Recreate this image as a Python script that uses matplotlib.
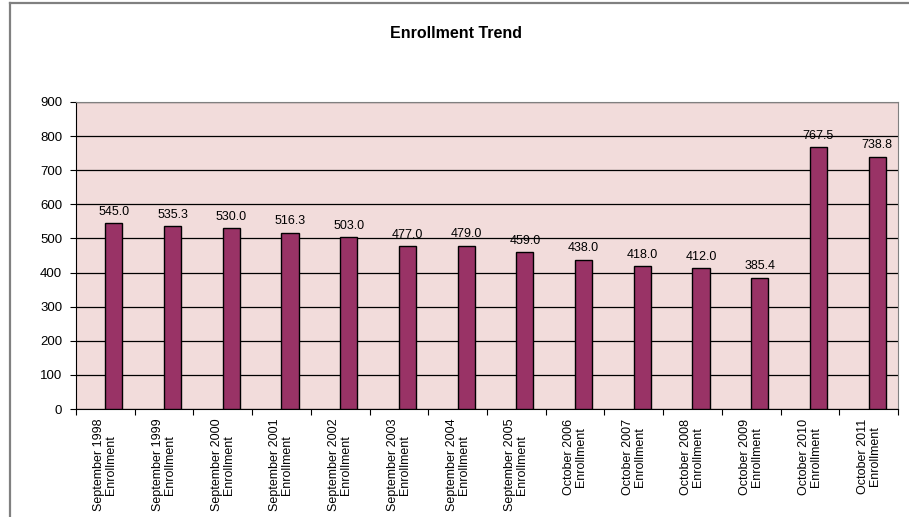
import matplotlib.pyplot as plt
from matplotlib.lines import Line2D
import numpy as np

plt.rcParams["font.family"] = ["Liberation Sans", "DejaVu Sans"]

periods = ["September 1998", "September 1999", "September 2000", "September 2001",
           "September 2002", "September 2003", "September 2004", "September 2005",
           "October 2006", "October 2007", "October 2008", "October 2009",
           "October 2010", "October 2011"]
enrollment = [545.0, 535.3, 530.0, 516.3, 503.0, 477.0, 479.0, 459.0,
              438.0, 418.0, 412.0, 385.4, 767.5, 738.8]
y_ticks = [0, 100, 200, 300, 400, 500, 600, 700, 800, 900]

BAR_COLOR = "#993366"
PLOT_BG = "#F2DCDB"

fig = plt.figure(figsize=(9.09, 5.17), dpi=100)
ax = fig.add_axes([76 / 909, 1 - 409 / 517, 822 / 909, 307 / 517])
ax.set_facecolor(PLOT_BG)

x = np.arange(len(periods))
bar_w = 0.29
bars = ax.bar(x + bar_w / 2, enrollment, width=bar_w, color=BAR_COLOR,
              edgecolor="black", linewidth=1.0, zorder=3)
for b, v in zip(bars, enrollment):
    ax.annotate(f"{v:.1f}", (b.get_x() + b.get_width() / 2, v),
                xytext=(0, 4), textcoords="offset points",
                ha="center", va="bottom", fontsize=9, color="black")

ax.set_xlim(-0.5, len(periods) - 0.5)
ax.set_ylim(0, 900)
ax.set_yticks(y_ticks)
ax.set_yticklabels([str(t) for t in y_ticks], fontsize=9.5)
ax.yaxis.grid(True, color="black", linewidth=0.9, zorder=1)
ax.set_axisbelow(True)

# categories labelled at centre, ticks between categories
ax.set_xticks(x)
ax.set_xticklabels([f"{p}\nEnrollment" for p in periods], rotation=90,
                   fontsize=9, multialignment="center", linespacing=1.0)
ax.tick_params(axis="x", length=0, pad=7)
ax.set_xticks(np.arange(-0.5, len(periods)), minor=True)
ax.tick_params(axis="x", which="minor", length=4, width=0.8, color="black")
ax.tick_params(axis="y", length=4, width=0.8, pad=6)

for s in ("top", "right"):
    ax.spines[s].set_color("#808080")
    ax.spines[s].set_linewidth(0.8)
ax.spines["left"].set_color("black")
ax.spines["bottom"].set_color("black")

fig.text(456 / 909, 1 - 33 / 517, "Enrollment Trend", ha="center", va="center",
         fontsize=11.5, fontweight="bold")

# chart frame (cropped on right and bottom)
fig.add_artist(Line2D([9.5 / 909, 1], [1 - 2.5 / 517] * 2, color="#808080", lw=1.6,
                      transform=fig.transFigure))
fig.add_artist(Line2D([9.5 / 909] * 2, [0, 1 - 2.5 / 517], color="#808080", lw=1.6,
                      transform=fig.transFigure))

fig.savefig("out.png", dpi=100)
